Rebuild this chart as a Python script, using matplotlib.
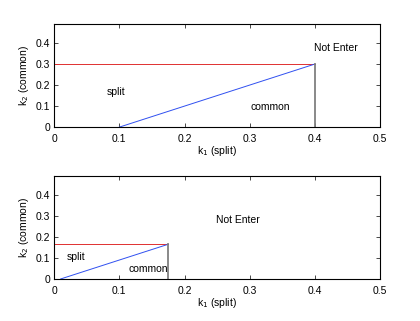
import numpy as np
import matplotlib.pyplot as plt

plt.rcParams['font.family'] = ['Liberation Sans', 'DejaVu Sans']

# top panel
top_k1_red = [0.0, 0.4]
top_k2_red = [0.3, 0.3]
top_k1_blue = [0.1, 0.4]
top_k2_blue = [0.0, 0.3]
top_k1_gray = [0.4, 0.4]
top_k2_gray = [0.0, 0.3]

# bottom panel
bot_k1_red = [0.0, 0.175]
bot_k2_red = [0.165, 0.165]
bot_k1_blue = [0.01, 0.175]
bot_k2_blue = [0.0, 0.165]
bot_k1_gray = [0.175, 0.175]
bot_k2_gray = [0.0, 0.165]

xticks = [0, 0.1, 0.2, 0.3, 0.4, 0.5]
yticks = [0, 0.1, 0.2, 0.3, 0.4]

fig = plt.figure(figsize=(4.2, 3.21), dpi=100)
ax1 = fig.add_axes([0.129, 0.604, 0.776, 0.321])
ax2 = fig.add_axes([0.129, 0.131, 0.776, 0.321])

def estilo(ax):
    ax.set_xlim(0, 0.5)
    ax.set_ylim(0, 0.49)
    ax.set_xticks(xticks)
    ax.set_xticklabels(['0', '0.1', '0.2', '0.3', '0.4', '0.5'])
    ax.set_yticks(yticks)
    ax.set_yticklabels(['0', '0.1', '0.2', '0.3', '0.4'])
    ax.tick_params(direction='in', top=True, right=True, labelsize=7.5, length=3, width=0.5)
    ax.tick_params(axis='x', pad=5)
    ax.tick_params(axis='y', pad=3)
    for s in ax.spines.values():
        s.set_linewidth(0.8)
    ax.set_xlabel('k$_1$ (split)', fontsize=7.5, labelpad=0)
    ax.set_ylabel('k$_2$ (common)', fontsize=7.5, labelpad=3)

ax1.plot(top_k1_red, top_k2_red, color='#e03030', linewidth=0.7)
ax1.plot(top_k1_blue, top_k2_blue, color='#3050f0', linewidth=0.7)
ax1.plot(top_k1_gray, top_k2_gray, color='#808080', linewidth=1.3)
ax1.text(0.081, 0.168, 'split', fontsize=7.5, va='center')
ax1.text(0.331, 0.098, 'common', fontsize=7.5, va='center', ha='center')
ax1.text(0.399, 0.375, 'Not Enter', fontsize=7.5, va='center')
estilo(ax1)

ax2.plot(bot_k1_red, bot_k2_red, color='#e03030', linewidth=0.7)
ax2.plot(bot_k1_blue, bot_k2_blue, color='#3050f0', linewidth=0.7)
ax2.plot(bot_k1_gray, bot_k2_gray, color='#808080', linewidth=1.3)
ax2.text(0.0194, 0.103, 'split', fontsize=7.5, va='center')
ax2.text(0.114, 0.047, 'common', fontsize=7.5, va='center')
ax2.text(0.249, 0.28, 'Not Enter', fontsize=7.5, va='center')
estilo(ax2)

fig.savefig('out.png', dpi=100)
